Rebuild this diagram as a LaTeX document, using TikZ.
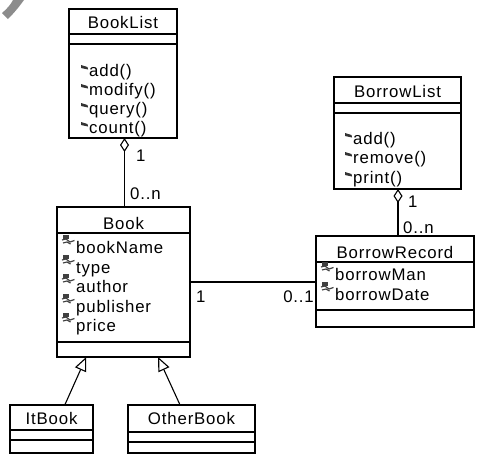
\documentclass[tikz,border=0pt]{standalone}
\usepackage{fontspec}
\setmainfont[LetterSpace=5]{Liberation Sans}
\usetikzlibrary{arrows.meta,calc}

\tikzset{
  cls/.style={draw, line width=1.1pt, anchor=north west, inner sep=0pt, outer sep=0pt},
  divider/.style={line width=1.1pt},
  member/.style={anchor=base west, inner sep=0pt},
  title/.style={anchor=base, inner sep=0pt},
  mult/.style={anchor=base west, inner sep=0pt},
  assoc/.style={line width=1.1pt},
  aggr/.style={line width=1.1pt, {Diamond[open, length=14pt, width=9pt, line width=1.1pt]}-},
  inherit/.style={line width=1.1pt, -{Triangle[open, length=14pt, width=12pt, line width=1.1pt, fill=white]}},
  opicon/.pic={\fill[black!80] (0,0) -- (6.5,2) -- (7,4.5) -- (0,3) -- cycle;},
  attricon/.pic={
    \fill[black!75] (1,0) rectangle (6.5,3.5);
    \draw[black!75, line width=1.2pt] (0,5) -- (4,4) -- (8,7) -- (12.5,5.5);
    \draw[black!75, line width=1.2pt] (1,8) -- (5,7) -- (8.5,9);
  },
}

\begin{document}
\begin{tikzpicture}[x=1pt, y=-1pt, font=\fontsize{16.8}{19}\selectfont]
\useasboundingbox (0,0) rectangle (477,455);

% corner mark
\fill[black!45] (13,0) -- (24,0) .. controls (19,7) and (14,13) .. (8,19)
  -- (2,13) .. controls (7,9) and (11,4) .. (13,0) -- cycle;

% ---- BookList ----
\node[cls, minimum width=108pt, minimum height=129pt] (booklist) at (69,9) {};
\draw[divider] (booklist.west |- 0,34) -- (booklist.east |- 0,34);
\draw[divider] (booklist.west |- 0,44) -- (booklist.east |- 0,44);
\node[title] (booklistname) at (booklist.north |- 0,28) {BookList};
\foreach \t/\y [count=\i] in {add()/76, modify()/95, query()/114, count()/133}{
  \pic at (81,\y-11) {opicon};
  \node[member] (blop\i) at (89,\y) {\t};
}

% ---- BorrowList ----
\node[cls, minimum width=127pt, minimum height=112pt] (borrowlist) at (334,77) {};
\draw[divider] (borrowlist.west |- 0,103) -- (borrowlist.east |- 0,103);
\draw[divider] (borrowlist.west |- 0,113) -- (borrowlist.east |- 0,113);
\node[title] (borrowlistname) at (borrowlist.north |- 0,97) {BorrowList};
\foreach \t/\y [count=\i] in {add()/144, remove()/163, print()/183}{
  \pic at (345,\y-11) {opicon};
  \node[member] (brop\i) at (353,\y) {\t};
}

% ---- Book ----
\node[cls, minimum width=133pt, minimum height=150pt] (book) at (57,207) {};
\draw[divider] (book.west |- 0,233) -- (book.east |- 0,233);
\draw[divider] (book.west |- 0,342) -- (book.east |- 0,342);
\node[title] (bookname) at (book.north |- 0,229) {Book};
\foreach \t/\y [count=\i] in {bookName/253, type/273, author/292, publisher/312, price/331}{
  \pic at (62,\y-18) {attricon};
  \node[member] (bkat\i) at (76,\y) {\t};
}

% ---- BorrowRecord ----
\node[cls, minimum width=158pt, minimum height=91pt] (borrowrecord) at (316,236) {};
\draw[divider] (borrowrecord.west |- 0,262) -- (borrowrecord.east |- 0,262);
\draw[divider] (borrowrecord.west |- 0,310) -- (borrowrecord.east |- 0,310);
\node[title] (borrowrecordname) at (borrowrecord.north |- 0,258) {BorrowRecord};
\foreach \t/\y [count=\i] in {borrowMan/280, borrowDate/300}{
  \pic at (321,\y-18) {attricon};
  \node[member] (brat\i) at (335,\y) {\t};
}

% ---- ItBook ----
\node[cls, minimum width=83pt, minimum height=48pt] (itbook) at (10,405) {};
\draw[divider] (itbook.west |- 0,430) -- (itbook.east |- 0,430);
\draw[divider] (itbook.west |- 0,440) -- (itbook.east |- 0,440);
\node[title] (itbookname) at (itbook.north |- 0,424) {ItBook};

% ---- OtherBook ----
\node[cls, minimum width=127pt, minimum height=48pt] (otherbook) at (128,405) {};
\draw[divider] (otherbook.west |- 0,432) -- (otherbook.east |- 0,432);
\draw[divider] (otherbook.west |- 0,442) -- (otherbook.east |- 0,442);
\node[title] (otherbookname) at (otherbook.north |- 0,424) {OtherBook};

% ---- aggregations ----
\draw[aggr] ($(booklist.south)+(1.5,0)$) -- ($(booklist.south |- book.north)+(1.5,0)$);
\node[mult] (m1) at (136,161) {1};
\node[mult] (m2) at (130,199) {0..n};

\draw[aggr] ($(borrowlist.south)+(0.5,0)$) -- ($(borrowlist.south |- borrowrecord.north)+(0.5,0)$);
\node[mult] (m3) at (408,207) {1};
\node[mult] (m4) at (403,233) {0..n};

% ---- association ----
\draw[assoc] (book.east) -- (book.east -| borrowrecord.west);
\node[mult] (m5) at (196,302) {1};
\node[mult, anchor=base east] (m6) at (314,302) {0..1};

% ---- generalizations ----
\draw[inherit] ($(itbook.north west)!0.66!(itbook.north east)$) -- ($(book.south west)!0.22!(book.south east)$);
\draw[inherit] ($(otherbook.north west)!0.41!(otherbook.north east)$) -- ($(book.south west)!0.76!(book.south east)$);

\end{tikzpicture}
\end{document}
